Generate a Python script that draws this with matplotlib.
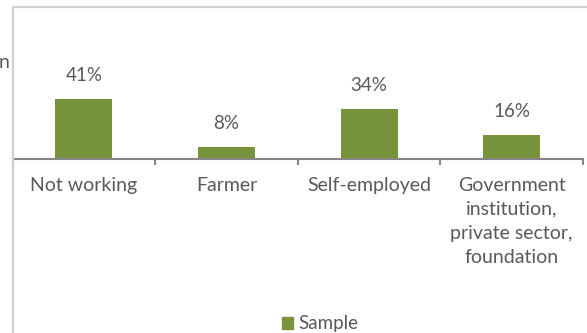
import matplotlib
matplotlib.use("Agg")
import matplotlib.pyplot as plt
from matplotlib.patches import Rectangle, Patch

categories = ["Not working", "Farmer", "Self-employed",
              "Government\ninstitution,\nprivate sector,\nfoundation"]
values = [41, 8, 34, 16]
labels = ["41%", "8%", "34%", "16%"]
series_name = "Sample"

plt.rcParams['font.family'] = ['Lato', 'DejaVu Sans']
TXT = "#595959"
GREEN = "#77933C"

W, H = 587, 333
fig = plt.figure(figsize=(W / 100, H / 100), dpi=100)

# chart border (partially visible)
fig.patches.append(Rectangle((13 / W, -0.1), 1.2, (H - 7) / H + 0.1,
                             transform=fig.transFigure, fill=False,
                             edgecolor="#d0d0d0", linewidth=1.6))
fig.text(-1 / W, 1 - 63 / H, "n", color=TXT, fontsize=14, ha="left", va="center")

x0, x1 = 12.5, 583
ybot, ytop = 158.5, 20
ax = fig.add_axes([x0 / W, 1 - ybot / H, (x1 - x0) / W, (ybot - ytop) / H])
xs = list(range(len(categories)))
ax.bar(xs, values, width=0.4, color=GREEN)
ax.set_xlim(-0.5, 3.5)
ax.set_ylim(0, (ybot - ytop) / 1.45)

for x, v, l in zip(xs, values, labels):
    ax.annotate(l, (x, v), xytext=(0, 11), textcoords="offset points",
                ha="center", va="bottom", color=TXT, fontsize=13.5)

for s in ["top", "left", "right"]:
    ax.spines[s].set_visible(False)
ax.spines["bottom"].set_color("#868686")
ax.spines["bottom"].set_linewidth(1.5)
ax.set_yticks([])
ax.set_xticks(xs)
ax.set_xticklabels(categories, color=TXT, fontsize=14, linespacing=1.52)
ax.tick_params(axis="x", which="major", length=0, pad=13)
ax.set_xticks([-0.5, 0.5, 1.5, 2.5, 3.5], minor=True)
ax.tick_params(axis="x", which="minor", length=4, width=1.5, color="#868686")

fig.legend(handles=[Patch(color=GREEN, label=series_name)],
           loc="center", bbox_to_anchor=(320 / W, 1 - 324 / H),
           frameon=False, fontsize=13.5, handlelength=0.6, handleheight=0.6,
           handletextpad=0.3, labelcolor=TXT)

fig.savefig("out.png", dpi=100)
